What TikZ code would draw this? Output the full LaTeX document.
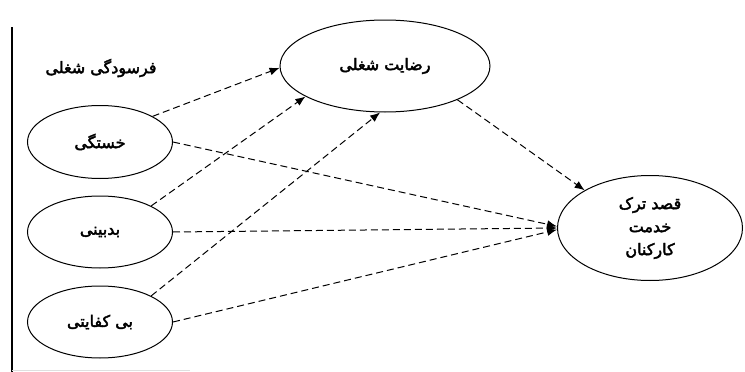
\documentclass[tikz,border=0pt]{standalone}
\usepackage{fontspec}
\usepackage{tikz}
\usetikzlibrary{shapes.geometric,arrows.meta,positioning,calc}
\TeXXeTstate=1
\newfontfamily\arabicfont[Script=Arabic, FakeBold=2.5]{DejaVu Sans}

\begin{document}
\begin{tikzpicture}[x=1pt, y=-1pt, every node/.style={font=\arabicfont\fontsize{16}{23}\selectfont},
    oval/.style={draw, ellipse, inner sep=0pt, line width=1pt},
    path/.style={draw, dash pattern=on 7pt off 4pt, line width=1pt, -{Latex[length=10pt, width=8pt]}}]
        \useasboundingbox (0,0) rectangle (745,372);
        \draw[line width=1.3pt] (12,27) -- (12,372);
        \draw[gray!25, line width=0.8pt] (12,370) -- (190,370);
        \node (title) at (101,68) {\beginR فرسودگی شغلی\endR};
        \node[oval, minimum width=145pt, minimum height=73pt] (khas) at (100,142) {\beginR خستگی\endR};
        \node[oval, minimum width=145pt, minimum height=72pt] (bad) at (100,232) {\beginR بدبینی\endR};
        \node[oval, minimum width=145pt, minimum height=72pt] (bik) at (100,322) {\beginR بی کفایتی\endR};
        \node[oval, minimum width=210pt, minimum height=92pt] (rez) at (385,66) {\beginR رضایت شغلی\endR};
        \node[oval, minimum width=185pt, minimum height=105pt, align=center] (qasd) at (650,228) {\beginR قصد ترک\endR\\ \beginR خدمت\endR\\ \beginR کارکنان\endR};
        \draw[path] (khas.26) -- (rez.181);
        \draw[path] (bad.27) -- (rez.201);
        \draw[path] (bik.27) -- (rez.264);
        \draw[path] (khas.0) -- (qasd.179);
        \draw[path] (bad.0) -- (qasd.180);
        \draw[path] (bik.0) -- (qasd.181);
        \draw[path] (rez.335) -- (qasd.150);
      \end{tikzpicture}
\end{document}
